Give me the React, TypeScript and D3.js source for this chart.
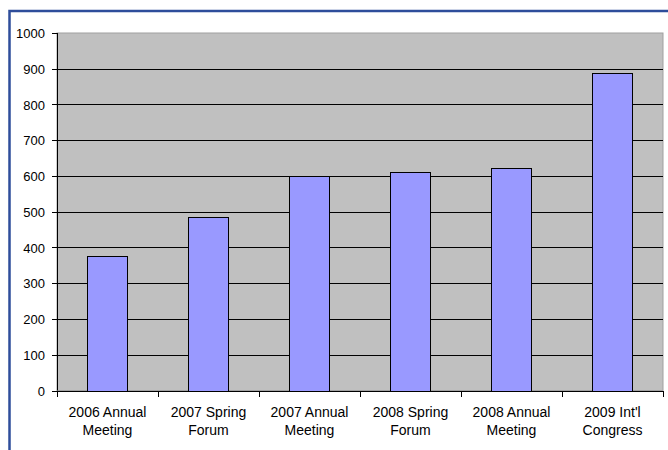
import React from 'react';
import * as d3 from 'd3';

const categories = [
  ['2006 Annual', 'Meeting'],
  ['2007 Spring', 'Forum'],
  ['2007 Annual', 'Meeting'],
  ['2008 Spring', 'Forum'],
  ['2008 Annual', 'Meeting'],
  ["2009 Int'l", 'Congress'],
];
const values = [377, 485, 600, 612, 621, 888];
const yTicks = [0, 100, 200, 300, 400, 500, 600, 700, 800, 900, 1000];

const W = 668;
const H = 450;
const plot = { left: 57, right: 663, top: 33, bottom: 390.5 };

const App: React.FC = () => {
  const keys = categories.map((c) => c.join(' '));
  const x = d3.scaleBand<string>()
    .domain(keys)
    .range([plot.left, plot.right])
    .paddingInner(0.6)
    .paddingOuter(0.3);
  const y = d3.scaleLinear().domain([0, 1000]).range([plot.bottom, plot.top]);
  const step = x.step();
  const boundaries = d3.range(categories.length + 1).map((i) => plot.left + i * step);

  return (
    <svg
      width={W}
      height={H}
      style={{ position: 'absolute', left: 0, top: 0, fontFamily: '"Liberation Sans", Arial, sans-serif' }}
    >
      <rect width={W} height={H} fill="#fff" />
      {/* outer frame */}
      <path d={`M9.5,${H} V11 H${W}`} fill="none" stroke="#2E4D9B" strokeWidth={2.5} />

      {/* plot area */}
      <rect
        x={plot.left}
        y={plot.top}
        width={plot.right - plot.left}
        height={plot.bottom - plot.top}
        fill="#C0C0C0"
        stroke="#A0A0A0"
        strokeWidth={1}
      />

      {/* gridlines */}
      {yTicks.slice(1, -1).map((t) => (
        <line key={t} x1={plot.left} x2={plot.right} y1={Math.round(y(t)) + 0.5} y2={Math.round(y(t)) + 0.5} stroke="#000" strokeWidth={1} />
      ))}

      {/* bars */}
      {values.map((v, i) => (
        <rect
          key={keys[i]}
          x={Math.round(x(keys[i])!) + 0.5}
          y={Math.round(y(v)) + 0.5}
          width={Math.round(x.bandwidth())}
          height={Math.round(y(0)) - Math.round(y(v))}
          fill="#9999FF"
          stroke="#000"
          strokeWidth={1}
        />
      ))}

      {/* y axis */}
      <line x1={plot.left + 0.5} x2={plot.left + 0.5} y1={plot.top} y2={plot.bottom} stroke="#000" />
      {yTicks.map((t) => (
        <g key={t}>
          <line x1={plot.left - 5} x2={plot.left} y1={Math.round(y(t)) + 0.5} y2={Math.round(y(t)) + 0.5} stroke="#000" />
          <text x={plot.left - 12} y={y(t) + 5} textAnchor="end" fontSize={13} fill="#000">
            {t}
          </text>
        </g>
      ))}

      {/* x axis */}
      <line x1={plot.left} x2={plot.right} y1={Math.round(y(0)) + 0.5} y2={Math.round(y(0)) + 0.5} stroke="#000" />
      {boundaries.map((b, i) => (
        <line key={i} x1={Math.round(b) + 0.5} x2={Math.round(b) + 0.5} y1={Math.round(y(0))} y2={Math.round(y(0)) + 6} stroke="#000" />
      ))}
      {categories.map((c, i) => (
        <text key={keys[i]} textAnchor="middle" fontSize={14} fill="#000">
          {c.map((line, j) => (
            <tspan key={j} x={x(keys[i])! + x.bandwidth() / 2} y={417 + j * 18}>
              {line}
            </tspan>
          ))}
        </text>
      ))}
    </svg>
  );
};

export default App;
